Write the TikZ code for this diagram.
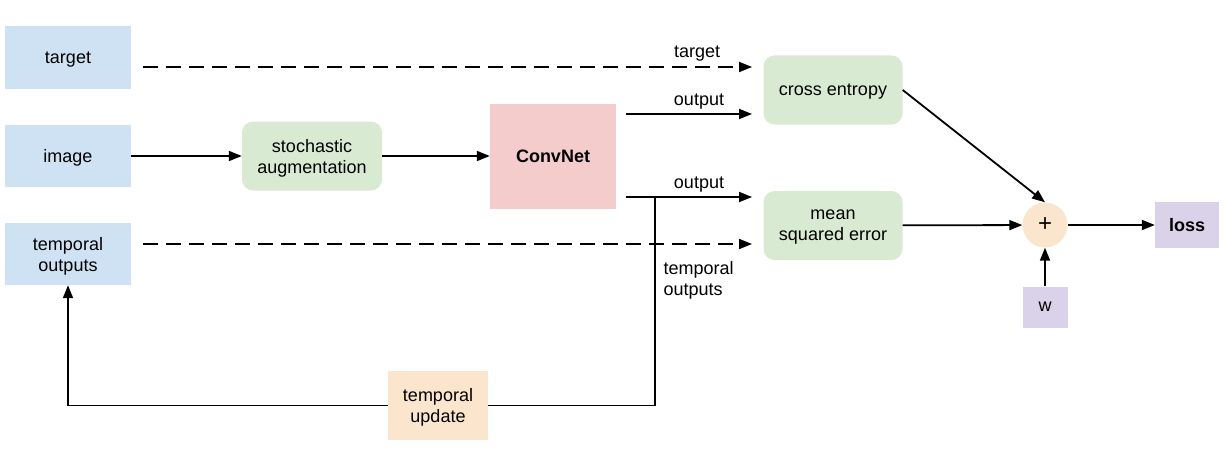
\documentclass[tikz,border=0pt]{standalone}
\usepackage{fontspec}
\setmainfont{Liberation Sans}
\usepackage{xcolor}
\usetikzlibrary{arrows.meta}

\definecolor{inblue}{HTML}{CFE2F3}
\definecolor{opgreen}{HTML}{D9EAD3}
\definecolor{netred}{HTML}{F4CCCC}
\definecolor{updorange}{HTML}{FCE5CD}
\definecolor{outpurple}{HTML}{D9D2E9}

\begin{document}
\begin{tikzpicture}[x=1pt,y=-1pt,
    font=\fontsize{18}{21}\selectfont,
    inbox/.style={fill=inblue, minimum width=126pt, minimum height=62pt, align=center, text depth=0pt},
    opbox/.style={fill=opgreen, rounded corners=11pt, minimum width=139pt, minimum height=69pt, align=center, text depth=0pt},
    flow/.style={line width=1.8pt, -{Triangle[length=13pt,width=10pt]}},
    flowline/.style={line width=1.8pt},
    dashflow/.style={flow, dash pattern=on 15pt off 8pt}]
    \useasboundingbox (0,0) rectangle (1225,460);

    % inputs on the left
    \node[inbox] (target) at (68,57.5) {target};
    \node[inbox] (image) at (68,156) {image};
    \node[inbox] (tempout) at (68,254) {temporal\\outputs};

    % network
    \node[opbox, minimum width=140pt] (augment) at (312,156) {stochastic\\augmentation};
    \node[fill=netred, minimum width=126pt, minimum height=105pt, font=\fontsize{18}{21}\selectfont\bfseries] (convnet) at (553,156) {ConvNet};

    % losses
    \node[opbox] (xent) at (833,90) {cross entropy};
    \node[opbox] (mse) at (833,225.5) {mean\\squared error};
    \node[circle, fill=updorange, minimum size=45pt, inner sep=0pt, font=\fontsize{24}{26}\selectfont] (plus) at (1045,225) {+};
    \node[fill=outpurple, minimum width=64pt, minimum height=46pt, font=\fontsize{18}{21}\selectfont\bfseries] (loss) at (1187,225) {loss};
    \node[fill=outpurple, minimum width=45pt, minimum height=41pt] (w) at (1045,307) {w};
    \node[fill=updorange, minimum width=100pt, minimum height=69pt, align=center, text depth=0pt] (update) at (438,405.5) {temporal\\update};

    % connectors
    \coordinate (tgtstart) at (143,67);
    \coordinate (tgtend) at (752,67);
    \coordinate (tostart) at (143,244);
    \coordinate (toend) at (752,244);
    \coordinate (out1) at (626,114);
    \coordinate (out1end) at (752,114);
    \coordinate (out2) at (626,197);
    \coordinate (out2end) at (752,197);
    \coordinate (split) at (655,197);

    \draw[dashflow] (tgtstart) -- node[above=2pt, pos=0.91] {target} (tgtend);
    \draw[dashflow] (tostart) -- (toend);
    \draw[flow] (image) -- (augment);
    \draw[flow] (augment) -- (convnet);
    \draw[flow] (out1) -- node[above=1pt, xshift=10pt] {output} (out1end);
    \draw[flow] (out2) -- node[above=1pt, xshift=10pt] {output} (out2end);
    \draw[flowline] (split) |- (update.east);
    \draw[flow] (update.west) -| (tempout.south);
    \node[anchor=north west, align=left] (tolabel) at (660,258) {temporal\\outputs};

    \draw[flow] (xent.east) -- (plus.north);
    \draw[flow] (mse) -- (plus);
    \draw[flow] (plus) -- (loss);
    \draw[flow] (w) -- (plus);
\end{tikzpicture}
\end{document}
